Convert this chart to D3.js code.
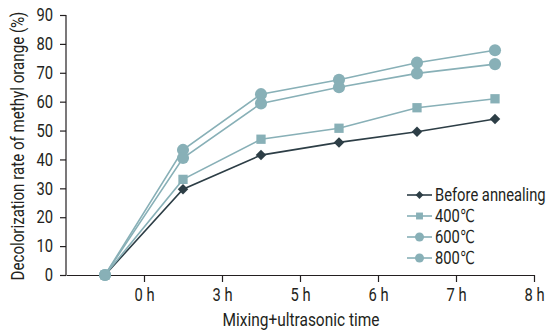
<!DOCTYPE html>
<html><head><meta charset="utf-8">
<script src="https://cdn.jsdelivr.net/npm/d3@7"></script>
<style>body{margin:0;background:#fff}svg{display:block}text{font-family:Roboto,"DejaVu Sans Condensed",sans-serif;fill:#231f20}</style>
</head><body><svg id="c" width="546" height="333"></svg>
<script>
const categories = ["", "0 h", "3 h", "5 h", "6 h", "7 h"];
const tickLabels = ["0 h", "3 h", "5 h", "6 h", "7 h", "8 h"];
const seriesNames = ["Before annealing", "400\u2103", "600\u2103", "800\u2103"];
const beforeAnnealing = [0, 29.7, 41.5, 45.9, 49.6, 54.0];
const c400 = [0, 33.1, 47.0, 50.8, 57.9, 61.0];
const c600 = [0, 40.5, 59.4, 65.0, 69.8, 73.0];
const c800 = [0, 43.3, 62.6, 67.6, 73.5, 77.8];
const yTicks = [0,10,20,30,40,50,60,70,80,90];

const dark = "#2d3e46", teal = "#88b0b7";
const series = [
  {name: seriesNames[0], values: beforeAnnealing, color: dark, shape: d3.symbolDiamond2, size: 70},
  {name: seriesNames[1], values: c400, color: teal, shape: d3.symbolSquare2, size: 110},
  {name: seriesNames[2], values: c600, color: teal, shape: d3.symbolCircle, size: 115},
  {name: seriesNames[3], values: c800, color: teal, shape: d3.symbolCircle, size: 115}
];
const drawOrder = [0, 3, 2, 1];
const FS = "18px", SX = 0.82;

const svg = d3.select("#c");
const mL = 66, mR = 534, mT = 15, mB = 275;
const x = d3.scaleBand().domain(d3.range(categories.length)).range([mL, mR]);
const y = d3.scaleLinear().domain([0, 90]).range([mB, mT]);

// y axis
const ya = svg.append("g").attr("transform", `translate(${mL},0)`)
  .call(d3.axisLeft(y).tickValues(yTicks).tickSize(6).tickPadding(7));
ya.selectAll("text").style("font-size", FS)
  .attr("x", -13 / SX).attr("transform", `scale(${SX},1)`);
ya.selectAll("line,path").attr("stroke", "#231f20").attr("stroke-width", 1.2);
ya.select(".domain").attr("d", `M-0,${mT}V${mB}`);

// x axis: ticks at right edges of bands
const xe = d3.scaleLinear().domain([0, tickLabels.length]).range([mL, mR]);
const xa = svg.append("g").attr("transform", `translate(0,${mB})`)
  .call(d3.axisBottom(xe).tickValues(d3.range(1, tickLabels.length + 1))
    .tickFormat((d) => tickLabels[d - 1]).tickSize(7).tickPadding(6).tickSizeOuter(0));
xa.selectAll("text").style("font-size", FS).attr("transform", `scale(${SX},1)`);
xa.selectAll("line,path").attr("stroke", "#231f20").attr("stroke-width", 1.2);

// lines and markers
const line = d3.line().x((d, i) => x(i) + x.bandwidth() / 2).y(d => y(d));
drawOrder.forEach(k => {
  const s = series[k];
  svg.append("path").attr("d", line(s.values)).attr("fill", "none")
    .attr("stroke", s.color).attr("stroke-width", 1.6);
});
drawOrder.forEach(k => {
  const s = series[k];
  svg.append("g").selectAll("path").data(s.values).join("path")
    .attr("transform", (d, i) => `translate(${x(i) + x.bandwidth() / 2},${y(d)})`)
    .attr("d", d3.symbol().type(s.shape).size(s.size)).attr("fill", s.color);
});

// legend
const lg = svg.append("g").attr("transform", "translate(407,195)");
series.forEach((s, i) => {
  const g = lg.append("g").attr("transform", `translate(0,${i * 21})`);
  g.append("line").attr("x1", 0).attr("x2", 25).attr("stroke", s.color).attr("stroke-width", 1.6);
  g.append("path").attr("transform", "translate(12.5,0)")
    .attr("d", d3.symbol().type(s.shape).size(s.size * 0.55)).attr("fill", s.color);
  g.append("text").attr("transform", `translate(28,0) scale(0.82,1)`).attr("dy", "0.36em")
    .style("font-size", FS).text(s.name);
});

// titles
svg.append("text").attr("transform", `translate(301,326) scale(0.86,1)`).attr("text-anchor", "middle")
  .style("font-size", FS).text("Mixing+ultrasonic time");
svg.append("text").attr("transform", `translate(24,146) rotate(-90) scale(0.84,1)`).attr("text-anchor", "middle")
  .style("font-size", FS).text("Decolorization rate of methyl orange (%)");
</script></body></html>
